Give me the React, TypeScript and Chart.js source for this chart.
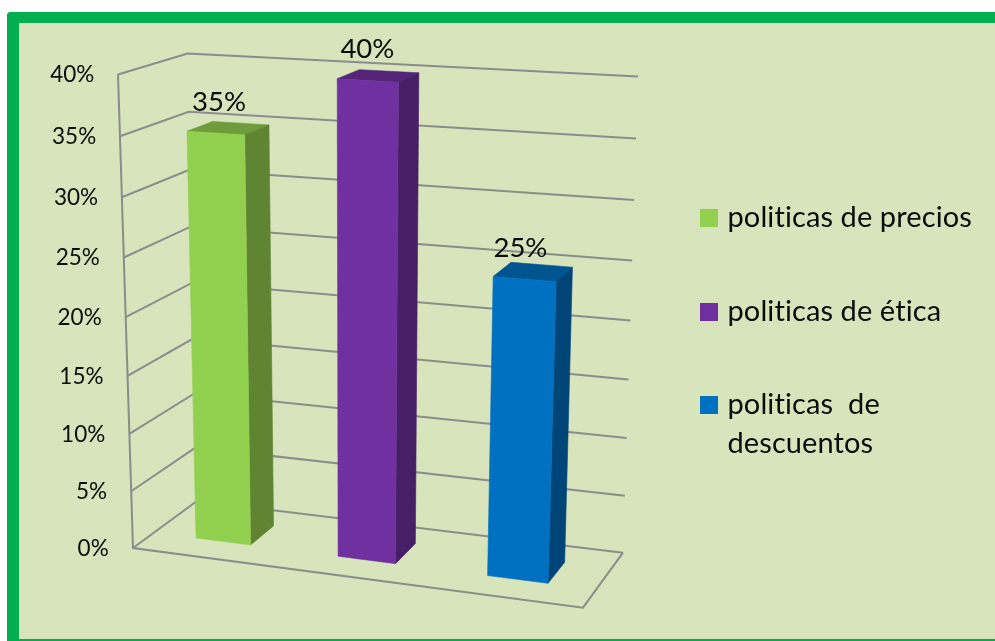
import { useEffect, useRef } from "react";
import { Chart, registerables, LinearScale } from "chart.js";

// Series
const categories: (string | string[])[] = [
  "politicas de precios",
  "politicas de ética",
  ["politicas  de", "descuentos"],
];
const percentages = [35, 40, 25];
const frontColors = ["#92D050", "#7030A0", "#0070C0"];
const topColors = ["#6E9C3C", "#542478", "#005590"];
const sideColors = ["#5F8432", "#461F66", "#004578"];

// Value axis
const axisMin = 0;
const axisMax = 40;
const axisStep = 5;

const FONT = "Lato, Carlito, 'Open Sans', sans-serif";
const INK = "#0c0c0c";
const GRID = "#8c8c8c";

// Foreshortening of the walls along the value and category directions
const VALUE_FORESHORTEN = 1.05;
const CATEGORY_FORESHORTEN = 1.08;
const foreshorten = (d: number, k: number) => d / (k - (k - 1) * d);

// Depth of the bars inside the floor (0 = front edge, 1 = back wall)
const BAR_DEPTH_FRONT = 0.33;
const BAR_DEPTH_BACK = 0.72;

// Value axis whose steps widen towards the top, with labels following the slanted edge
class PerspectiveScale extends LinearScale {
  static id = "perspectiveLinear";
  static defaults = {};

  getPixelForValue(value: number) {
    if (value === null) return NaN;
    const self = this as any;
    const d = (value - self.min) / (self.max - self.min);
    return self.bottom - foreshorten(d, VALUE_FORESHORTEN) * (self.bottom - self.top);
  }

  _computeLabelItems(area: any) {
    const self = this as any;
    const items = (LinearScale.prototype as any)._computeLabelItems.call(this, area);
    for (const item of items) {
      const [x, y] = item.options.translation;
      const v = (self.bottom - y) / (self.bottom - self.top);
      item.options.translation = [x - 14.4 * v, y + 0.7];
    }
    return items;
  }
}

Chart.register(...registerables, PerspectiveScale);

type Pt = { x: number; y: number };

// Maps (along categories, up the values, into depth) to canvas pixels
function makeProjector(chart: any) {
  const { left: l, right: r, top: t, bottom: b } = chart.chartArea;
  const c = {
    f0b: { x: l, y: b },
    f1b: { x: r, y: b + 59.7 },
    b0b: { x: l + 64, y: b - 47 },
    b1b: { x: r + 40, y: b + 4.7 },
    f0t: { x: l - 15, y: t },
    f1t: { x: r + 17, y: t + 29 },
    b0t: { x: l + 54.5, y: t - 21 },
    b1t: { x: r + 55, y: t + 2 },
  };
  const mix = (a: Pt, e: Pt, s: number): Pt => ({
    x: a.x + (e.x - a.x) * s,
    y: a.y + (e.y - a.y) * s,
  });
  return (u: number, v: number, w: number): Pt => {
    const bottom = mix(mix(c.f0b, c.f1b, u), mix(c.b0b, c.b1b, u), w);
    const top = mix(mix(c.f0t, c.f1t, u), mix(c.b0t, c.b1t, u), w);
    return mix(bottom, top, v);
  };
}

function polyline(ctx: CanvasRenderingContext2D, pts: Pt[]) {
  ctx.beginPath();
  pts.forEach((p, i) => (i ? ctx.lineTo(p.x, p.y) : ctx.moveTo(p.x, p.y)));
}

function quad(ctx: CanvasRenderingContext2D, pts: Pt[], color: string) {
  polyline(ctx, pts);
  ctx.closePath();
  ctx.fillStyle = color;
  ctx.strokeStyle = color;
  ctx.lineWidth = 0.6;
  ctx.fill();
  ctx.stroke();
}

const boxScene = {
  id: "boxScene",
  // Walls and floor, with one gridline per axis tick
  beforeDatasetsDraw(chart: any) {
    const { ctx, chartArea: area } = chart;
    const yScale = chart.scales.y;
    const project = makeProjector(chart);
    ctx.save();
    ctx.strokeStyle = GRID;
    ctx.lineWidth = 2;
    ctx.lineJoin = "miter";
    for (const tick of yScale.ticks) {
      const v = (area.bottom - yScale.getPixelForValue(tick.value)) / area.height;
      polyline(ctx, [project(0, v, 0), project(0, v, 1), project(1, v, 1)]);
      ctx.stroke();
    }
    polyline(ctx, [project(0, 1, 0), project(0, 0, 0), project(1, 0, 0), project(1, 0, 1)]);
    ctx.stroke();
    ctx.restore();
  },
  // The flat bars are replaced by prisms built from their resolved geometry
  beforeDatasetDraw(chart: any, args: any) {
    const { ctx, chartArea: area } = chart;
    const project = makeProjector(chart);
    const meta = args.meta;
    ctx.save();
    ctx.lineJoin = "round";
    meta.data.forEach((bar: any, i: number) => {
      const { x, y, width } = bar.getProps(["x", "y", "width"], true);
      const u0 = foreshorten((x - width / 2 - area.left) / area.width, CATEGORY_FORESHORTEN);
      const u1 = foreshorten((x + width / 2 - area.left) / area.width, CATEGORY_FORESHORTEN);
      const v = (area.bottom - y) / area.height;
      const w0 = BAR_DEPTH_FRONT;
      const w1 = BAR_DEPTH_BACK;
      quad(ctx, [project(u0, v, w0), project(u1, v, w0), project(u1, v, w1), project(u0, v, w1)], topColors[i]);
      quad(ctx, [project(u1, 0, w0), project(u1, v, w0), project(u1, v, w1), project(u1, 0, w1)], sideColors[i]);
      quad(ctx, [project(u0, 0, w0), project(u1, 0, w0), project(u1, v, w0), project(u0, v, w0)], frontColors[i]);
    });
    ctx.restore();
    return false;
  },
  // Value labels above each prism, then the legend column
  afterDatasetsDraw(chart: any) {
    const { ctx, chartArea: area } = chart;
    const project = makeProjector(chart);
    const meta = chart.getDatasetMeta(0);
    ctx.save();
    ctx.fillStyle = INK;
    ctx.textAlign = "center";
    ctx.textBaseline = "alphabetic";
    ctx.font = `27.5px ${FONT}`;
    meta.data.forEach((bar: any, i: number) => {
      const { x, y } = bar.getProps(["x", "y"], true);
      const u = foreshorten((x - area.left) / area.width, CATEGORY_FORESHORTEN);
      const v = (area.bottom - y) / area.height;
      const p = project(u, v, BAR_DEPTH_FRONT);
      ctx.fillText(`${percentages[i]}%`, p.x + 5 - 11 * u, p.y - 22.5);
    });

    const legendX = area.right + 117;
    const rowTops = [209, 303, 396];
    ctx.textAlign = "left";
    ctx.font = `29px ${FONT}`;
    // A hair of tracking keeps the "ti" pairs as separate letters
    (ctx as any).letterSpacing = "0.1px";
    categories.forEach((label, i) => {
      ctx.fillStyle = frontColors[i];
      ctx.fillRect(legendX, rowTops[i], 18, 18);
      ctx.fillStyle = INK;
      const lines = Array.isArray(label) ? label : [label];
      lines.forEach((line, n) => {
        ctx.fillText(line, legendX + 27.5, rowTops[i] + 18 + n * 38.7);
      });
    });
    ctx.restore();
  },
};

export default function App() {
  const canvasRef = useRef<HTMLCanvasElement>(null);

  useEffect(() => {
    const chart = new Chart(canvasRef.current!, {
      type: "bar",
      data: {
        labels: categories as any,
        datasets: [
          {
            label: "politicas",
            data: percentages,
            backgroundColor: frontColors,
            barPercentage: 0.39,
            categoryPercentage: 1,
          },
        ],
      },
      options: {
        animation: false,
        responsive: false,
        layout: { padding: { left: 20, right: 412, top: 74.5, bottom: 93 } },
        plugins: { legend: { display: false }, tooltip: { enabled: false } },
        scales: {
          x: { display: false },
          y: {
            type: "perspectiveLinear" as any,
            min: axisMin,
            max: axisMax,
            grid: { display: false },
            border: { display: false },
            afterFit: (scale: any) => {
              scale.width = 113;
            },
            ticks: {
              stepSize: axisStep,
              padding: 16.3,
              color: INK,
              font: { family: FONT, size: 22.5 },
              callback: (value: any) => `${value}%`,
            },
          },
        },
      },
      plugins: [boxScene],
    });
    return () => chart.destroy();
  }, []);

  return (
    <div style={{ position: "fixed", left: 0, top: 0, width: 995, height: 641, background: "#fff", overflow: "hidden" }}>
      <div
        style={{
          position: "absolute",
          left: 7,
          top: 12,
          width: 988,
          height: 629,
          boxSizing: "border-box",
          background: "#D8E4BC",
          borderStyle: "solid",
          borderColor: "#00B050",
          borderWidth: "11px 0 2px 12px",
          borderTopLeftRadius: 4,
        }}
      />
      <canvas
        ref={canvasRef}
        width={995}
        height={641}
        style={{ position: "absolute", left: 0, top: 0, width: 995, height: 641 }}
      />
    </div>
  );
}
